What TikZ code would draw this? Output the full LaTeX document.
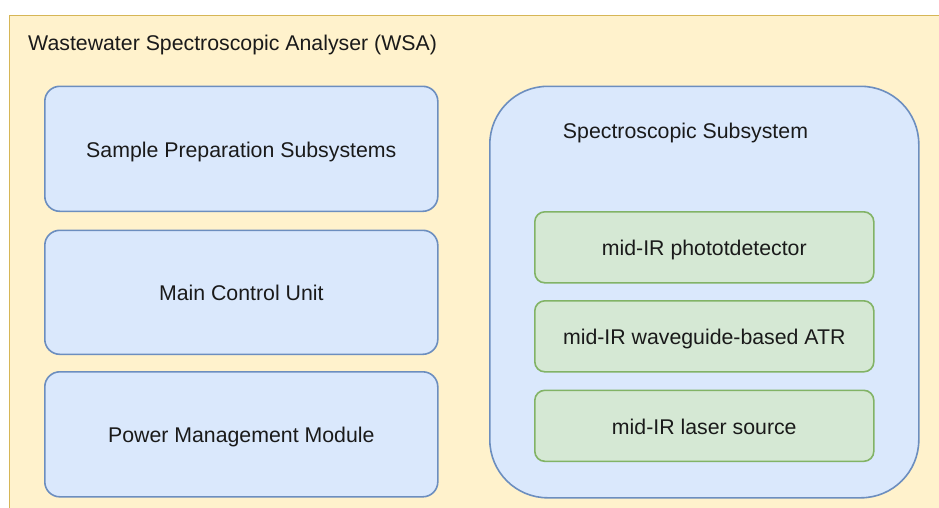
\documentclass[tikz,border=0pt]{standalone}
\usepackage{fontspec}
\setmainfont{Liberation Sans}
\definecolor{yfill}{HTML}{FFF2CC}
\definecolor{ydraw}{HTML}{D6B656}
\definecolor{bfill}{HTML}{DAE8FC}
\definecolor{bdraw}{HTML}{6C8EBF}
\definecolor{gfill}{HTML}{D5E8D4}
\definecolor{gdraw}{HTML}{82B366}
\definecolor{txt}{HTML}{1A1A1A}
\tikzset{
  boxfont/.style={font=\fontsize{21.3}{24}\selectfont, text=txt, text height=19pt, text depth=2pt},
  bluebox/.style={draw=bdraw, fill=bfill, line width=1.6pt, rounded corners=15pt,
    anchor=north west, inner sep=0pt, minimum width=393pt, minimum height=125pt, boxfont},
  greenbox/.style={draw=gdraw, fill=gfill, line width=1.6pt, rounded corners=10pt,
    anchor=north west, inner sep=0pt, minimum width=339pt, minimum height=71pt, boxfont},
  plaintext/.style={inner sep=0pt, font=\fontsize{21.3}{24}\selectfont, text=txt}
}
\begin{document}
\begin{tikzpicture}[x=1pt,y=-1pt]
\useasboundingbox (0,0) rectangle (939,507);
\clip (0,0) rectangle (939,507);
\fill[white] (0,0) rectangle (939,507);
\node[draw=ydraw, fill=yfill, line width=1.6pt, anchor=north west, inner sep=0pt,
  minimum width=960pt, minimum height=520pt] (wsa) at (8.5,14.5) {};
\node[plaintext, anchor=west] (wsatitle) at (28,44.5) {Wastewater Spectroscopic Analyser (WSA)};
\node[bluebox] (sample) at (44,85.5) {Sample Preparation Subsystems};
\node[bluebox, minimum height=124pt] (mcu) at (44,229.5) {Main Control Unit};
\node[bluebox] (power) at (44,371) {Power Management Module};
\node[draw=bdraw, fill=bfill, line width=1.6pt, rounded corners=58pt, anchor=north west,
  inner sep=0pt, minimum width=429pt, minimum height=411.5pt] (spec) at (489,85.5) {};
\node[plaintext] (spectitle) at (685.5,132.5) {Spectroscopic Subsystem};
\node[greenbox] (det) at (534,211) {mid-IR phototdetector};
\node[greenbox] (atr) at (534,300) {mid-IR waveguide-based ATR};
\node[greenbox] (laser) at (534,389.5) {mid-IR laser source};
\end{tikzpicture}
\end{document}
